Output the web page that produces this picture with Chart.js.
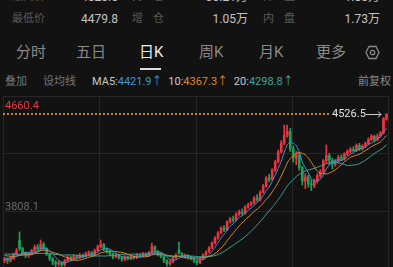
<!DOCTYPE html>
<html>
<head>
<meta charset="utf-8">
<script src="https://cdn.jsdelivr.net/npm/chart.js@4.4.1/dist/chart.umd.min.js"></script>
<style>
html, body { margin: 0; padding: 0; background: #121212; width: 393px; height: 267px; overflow: hidden;
  font-family: Roboto, "Noto Sans CJK SC", sans-serif; }
.t { position: absolute; white-space: nowrap; }
.lab { color: #5a5a5a; font-size: 11px; line-height: 12px; }
.sp { letter-spacing: 10px; }
.val { color: #c4c4c4; font-size: 12px; line-height: 12px; }
.tab { color: #8a8a8a; font-size: 15px; line-height: 16px; top: 44px; }
.ind { font-size: 11px; line-height: 12px; top: 76px; }
</style>
</head>
<body>
<!-- quote rows -->
<div class="t lab" style="left:12px;top:-9px">最高价</div>
<div class="t val" style="right:275px;top:-9px">4520.5</div>
<div class="t lab sp" style="left:132px;top:-9px">持仓</div>
<div class="t val" style="right:145px;top:-9px">30.21万</div>
<div class="t lab sp" style="left:263px;top:-9px">外盘</div>
<div class="t val" style="right:13px;top:-9px">1.80万</div>

<div class="t lab" style="left:12px;top:13px">最低价</div>
<div class="t val" style="right:275px;top:13px">4479.8</div>
<div class="t lab sp" style="left:132px;top:13px">增仓</div>
<div class="t val" style="right:145px;top:13px">1.05万</div>
<div class="t lab sp" style="left:263px;top:13px">内盘</div>
<div class="t val" style="right:13px;top:13px">1.73万</div>

<!-- period tabs -->
<div class="t tab" style="left:16px">分时</div>
<div class="t tab" style="left:76px">五日</div>
<div class="t tab" style="left:139px;color:#ececec">日K</div>
<div class="t" style="left:140px;top:68px;width:21px;height:2px;background:#dcdcdc"></div>
<div class="t tab" style="left:199px">周K</div>
<div class="t tab" style="left:259px">月K</div>
<div class="t tab" style="left:316px">更多</div>
<svg class="t" style="left:365px;top:45px" width="15" height="15" viewBox="0 0 15 15">
  <polygon points="4,1.5 11,1.5 14,7.5 11,13.5 4,13.5 1,7.5" fill="none" stroke="#8a8a8a" stroke-width="1.3"/>
  <circle cx="7.5" cy="7.5" r="2.2" fill="none" stroke="#8a8a8a" stroke-width="1.3"/>
</svg>

<!-- indicator row -->
<div class="t ind" style="left:5px;color:#767676">叠加</div>
<div class="t ind" style="left:43px;color:#767676">设均线</div>
<div class="t ind" style="left:92px;color:#c8c8c8">MA5:<span style="color:#3a98d6">4421.9↑</span>
  <span style="margin-left:3px">10:</span><span style="color:#dc8a2e">4367.3↑</span>
  <span style="margin-left:3px">20:</span><span style="color:#43a39c">4298.8↑</span></div>
<div class="t ind" style="left:358px;color:#8a8a8a">前复权</div>

<canvas id="kline" width="393" height="230" style="position:absolute;left:0;top:96px"></canvas>

<script>
// daily candles
const opens = [
  3440,3452,3438,3455,3490,3590,3530,3495,3478,3490,
  3515,3540,3528,3560,3530,3490,3455,3430,3415,3425,
  3410,3440,3465,3452,3470,3462,3480,3472,3490,3500,
  3485,3515,3545,3560,3525,3510,3490,3470,3480,3462,
  3450,3468,3455,3470,3462,3482,3475,3490,3480,3500,
  3545,3510,3485,3470,3440,3418,3430,3462,3520,3495,
  3470,3480,3462,3455,3438,3425,3450,3482,3504,3534,
  3571,3608,3645,3682,3668,3727,3749,3740,3786,3801,
  3790,3838,3853,3867,3904,3890,3949,3993,4053,4040,
  4112,4171,4245,4312,4371,4398,4270,4200,4225,4130,
  4030,4060,4010,4000,4030,4070,4100,4180,4220,4185,
  4155,4175,4205,4195,4230,4250,4265,4255,4295,4268,
  4288,4308,4338,4363,4335,4365,4388,4490
];
const closes = [
  3452,3438,3462,3490,3512,3530,3495,3478,3490,3515,
  3540,3528,3560,3530,3490,3455,3430,3415,3425,3410,
  3440,3465,3452,3470,3462,3480,3472,3490,3500,3485,
  3515,3545,3560,3525,3510,3490,3470,3480,3462,3450,
  3468,3455,3470,3462,3482,3475,3490,3480,3500,3545,
  3510,3485,3470,3440,3418,3430,3462,3478,3495,3470,
  3480,3462,3455,3438,3425,3450,3482,3504,3534,3571,
  3608,3645,3682,3668,3727,3749,3740,3786,3801,3790,
  3838,3853,3867,3904,3890,3949,3993,4053,4040,4112,
  4171,4245,4312,4371,4398,4270,4200,4225,4130,4030,
  4060,4010,4000,4030,4070,4100,4180,4220,4185,4155,
  4175,4205,4195,4230,4250,4265,4255,4295,4268,4288,
  4308,4338,4363,4335,4365,4388,4495,4526.5
];
const highs = [
  3465,3460,3470,3498,3530,3653,3540,3505,3500,3525,
  3556,3560,3593,3575,3535,3495,3462,3440,3438,3432,
  3450,3478,3475,3485,3482,3495,3490,3505,3512,3508,
  3525,3556,3593,3568,3535,3520,3498,3492,3488,3470,
  3478,3475,3482,3478,3492,3490,3502,3498,3510,3571,
  3550,3515,3492,3475,3448,3440,3470,3490,3578,3500,
  3490,3485,3470,3460,3445,3460,3490,3512,3545,3580,
  3618,3655,3690,3700,3735,3762,3770,3795,3815,3825,
  3848,3866,3880,3915,3930,3958,4005,4062,4080,4122,
  4185,4260,4330,4445,4445,4420,4290,4250,4235,4140,
  4085,4075,4040,4045,4085,4115,4190,4297,4235,4200,
  4190,4220,4225,4240,4262,4280,4285,4305,4310,4300,
  4320,4350,4375,4370,4378,4398,4500,4528
];
const lows = [
  3425,3420,3430,3448,3480,3515,3480,3462,3465,3482,
  3505,3515,3520,3520,3478,3440,3410,3395,3400,3390,
  3400,3432,3440,3445,3450,3455,3460,3465,3480,3470,
  3478,3505,3535,3515,3495,3478,3455,3460,3450,3435,
  3440,3445,3448,3452,3455,3465,3468,3470,3472,3495,
  3500,3475,3460,3425,3400,3405,3425,3455,3488,3462,
  3458,3452,3445,3425,3410,3418,3445,3475,3498,3528,
  3562,3600,3638,3655,3660,3718,3728,3735,3775,3780,
  3785,3830,3845,3860,3880,3885,3940,3985,4025,4035,
  4100,4165,4238,4300,4355,4250,4170,4150,4110,4000,
  3975,3985,3960,3980,4015,4055,4090,4160,4150,4120,
  4140,4165,4180,4185,4220,4240,4245,4248,4255,4260,
  4278,4300,4330,4320,4328,4355,4380,4479.8
];
// moving average lines as drawn
const ma5 = [
  3460,3455,3458,3465,3471,3486,3498,3501,3501,3502,
  3504,3510,3527,3535,3530,3513,3493,3464,3443,3427,
  3424,3431,3438,3447,3458,3466,3467,3475,3481,3485,
  3492,3507,3521,3526,3531,3526,3511,3495,3482,3470,
  3466,3463,3461,3461,3467,3469,3476,3478,3485,3498,
  3505,3504,3502,3490,3465,3449,3444,3446,3457,3467,
  3477,3477,3472,3461,3452,3446,3450,3460,3479,3508,
  3540,3572,3608,3635,3666,3694,3713,3734,3761,3773,
  3791,3814,3830,3850,3870,3893,3921,3958,3985,4029,
  4074,4124,4176,4242,4299,4319,4310,4293,4245,4171,
  4129,4091,4046,4026,4034,4042,4076,4120,4151,4168,
  4183,4188,4183,4192,4211,4229,4239,4259,4267,4274,
  4283,4299,4313,4326,4342,4358,4389,4421.9
];
const ma10 = [
  3478,3475,3473,3472,3474,3478,3482,3485,3486,3486,
  3495,3504,3514,3518,3516,3508,3502,3495,3489,3478,
  3468,3462,3451,3445,3442,3445,3449,3457,3464,3472,
  3479,3487,3498,3503,3508,3509,3509,3508,3504,3501,
  3496,3487,3478,3472,3469,3467,3469,3469,3473,3483,
  3487,3490,3490,3488,3481,3477,3474,3474,3473,3466,
  3463,3461,3459,3459,3460,3462,3464,3466,3470,3480,
  3493,3511,3534,3557,3587,3617,3643,3671,3698,3720,
  3743,3763,3782,3806,3822,3842,3867,3894,3918,3950,
  3983,4022,4067,4114,4164,4197,4217,4234,4243,4235,
  4224,4201,4169,4135,4103,4086,4084,4083,4089,4101,
  4113,4132,4152,4172,4190,4206,4214,4221,4229,4243,
  4256,4269,4286,4297,4308,4320,4344,4367.3
];
const ma20 = [
  3490,3489,3488,3487,3487,3487,3488,3489,3490,3491,
  3492,3493,3494,3494,3493,3491,3489,3486,3484,3482,
  3482,3483,3483,3482,3479,3477,3475,3476,3476,3475,
  3474,3475,3475,3474,3475,3477,3479,3482,3484,3486,
  3488,3487,3488,3488,3489,3488,3489,3489,3489,3492,
  3491,3488,3484,3480,3475,3472,3472,3472,3473,3474,
  3475,3475,3474,3473,3470,3469,3469,3470,3472,3473,
  3478,3486,3496,3508,3523,3539,3553,3569,3584,3600,
  3618,3637,3658,3681,3704,3729,3755,3782,3808,3835,
  3863,3893,3924,3960,3993,4019,4042,4064,4081,4093,
  4104,4112,4118,4124,4133,4141,4150,4159,4166,4168,
  4168,4166,4160,4153,4146,4146,4149,4152,4159,4172,
  4184,4201,4219,4234,4249,4263,4279,4298.8
];

// price axis
const yMax = 4660.4;
const yMin = 2955.8;
const gridPrices = [4660.4, 4234.25, 3808.1, 3381.95];
const lastPrice = 4526.5;

const UP = '#ee3340';
const DOWN = '#1f9f57';
const candleColor = (c) => closes[c.dataIndex] >= opens[c.dataIndex] ? UP : DOWN;

const gridPlugin = {
    id: 'klineGrid',
    beforeDatasetsDraw(chart) {
        const { ctx, chartArea: a, scales: { y } } = chart;
        ctx.save();
        ctx.strokeStyle = '#272727';
        ctx.lineWidth = 1;
        ctx.beginPath();
        gridPrices.forEach(p => {
            const py = Math.round(y.getPixelForValue(p)) + 0.5;
            ctx.moveTo(a.left, py);
            ctx.lineTo(a.right, py);
        });
        for (let k = 0; k <= 4; k++) {
            const px = Math.round(a.left + (a.right - a.left) * k / 4) + 0.5;
            ctx.moveTo(px, a.top);
            ctx.lineTo(px, a.bottom);
        }
        ctx.stroke();
        ctx.restore();
    }
};

const overlayPlugin = {
    id: 'klineOverlay',
    afterDatasetsDraw(chart) {
        const { ctx, chartArea: a, scales: { y } } = chart;
        ctx.save();
        // last price dotted line
        const py = Math.round(y.getPixelForValue(lastPrice));
        ctx.strokeStyle = '#c8822f';
        ctx.lineWidth = 2;
        ctx.setLineDash([2, 2]);
        ctx.beginPath();
        ctx.moveTo(a.left, py);
        ctx.lineTo(330, py);
        ctx.stroke();
        ctx.setLineDash([]);
        ctx.font = '11px Roboto, sans-serif';
        ctx.fillStyle = '#e2e2e2';
        ctx.textBaseline = 'middle';
        ctx.fillText(lastPrice.toFixed(1), 332, py);
        ctx.strokeStyle = '#cfcfcf';
        ctx.lineWidth = 1;
        ctx.beginPath();
        ctx.moveTo(366, py + 0.5);
        ctx.lineTo(381, py + 0.5);
        ctx.moveTo(378, py - 2.5);
        ctx.lineTo(381, py + 0.5);
        ctx.lineTo(378, py + 3.5);
        ctx.stroke();
        // axis labels
        ctx.textBaseline = 'alphabetic';
        ctx.fillStyle = '#e0393f';
        ctx.fillText(yMax.toFixed(1), 5, a.top + 13);
        ctx.fillStyle = '#6a6a6a';
        ctx.fillText(gridPrices[2].toFixed(1), 5, Math.round(y.getPixelForValue(gridPrices[2])) - 1);
        ctx.restore();
    }
};

new Chart(document.getElementById('kline').getContext('2d'), {
    type: 'bar',
    data: {
        labels: closes.map((_, i) => i),
        datasets: [
            {
                label: 'ma5', type: 'line', data: ma5, borderColor: '#3a98d6',
                borderWidth: 1, pointRadius: 0, tension: 0.2, order: 0
            },
            {
                label: 'ma10', type: 'line', data: ma10, borderColor: '#dc8a2e',
                borderWidth: 1, pointRadius: 0, tension: 0.2, order: 0
            },
            {
                label: 'ma20', type: 'line', data: ma20, borderColor: '#43a39c',
                borderWidth: 1, pointRadius: 0, tension: 0.2, order: 0
            },
            {
                label: 'body', data: opens.map((o, i) => [o, closes[i]]),
                backgroundColor: candleColor, barThickness: 2, minBarLength: 1,
                grouped: false, order: 1
            },
            {
                label: 'wick', data: lows.map((l, i) => [l, highs[i]]),
                backgroundColor: candleColor, barThickness: 1,
                grouped: false, order: 2
            }
        ]
    },
    options: {
        responsive: false,
        animation: false,
        devicePixelRatio: 1,
        events: [],
        layout: { padding: { left: 3, right: 5, top: 0, bottom: 0 } },
        plugins: { legend: { display: false }, tooltip: { enabled: false } },
        scales: {
            x: { display: false, offset: true, grid: { display: false } },
            y: { display: false, min: yMin, max: yMax }
        }
    },
    plugins: [gridPlugin, overlayPlugin]
});
</script>
</body>
</html>
